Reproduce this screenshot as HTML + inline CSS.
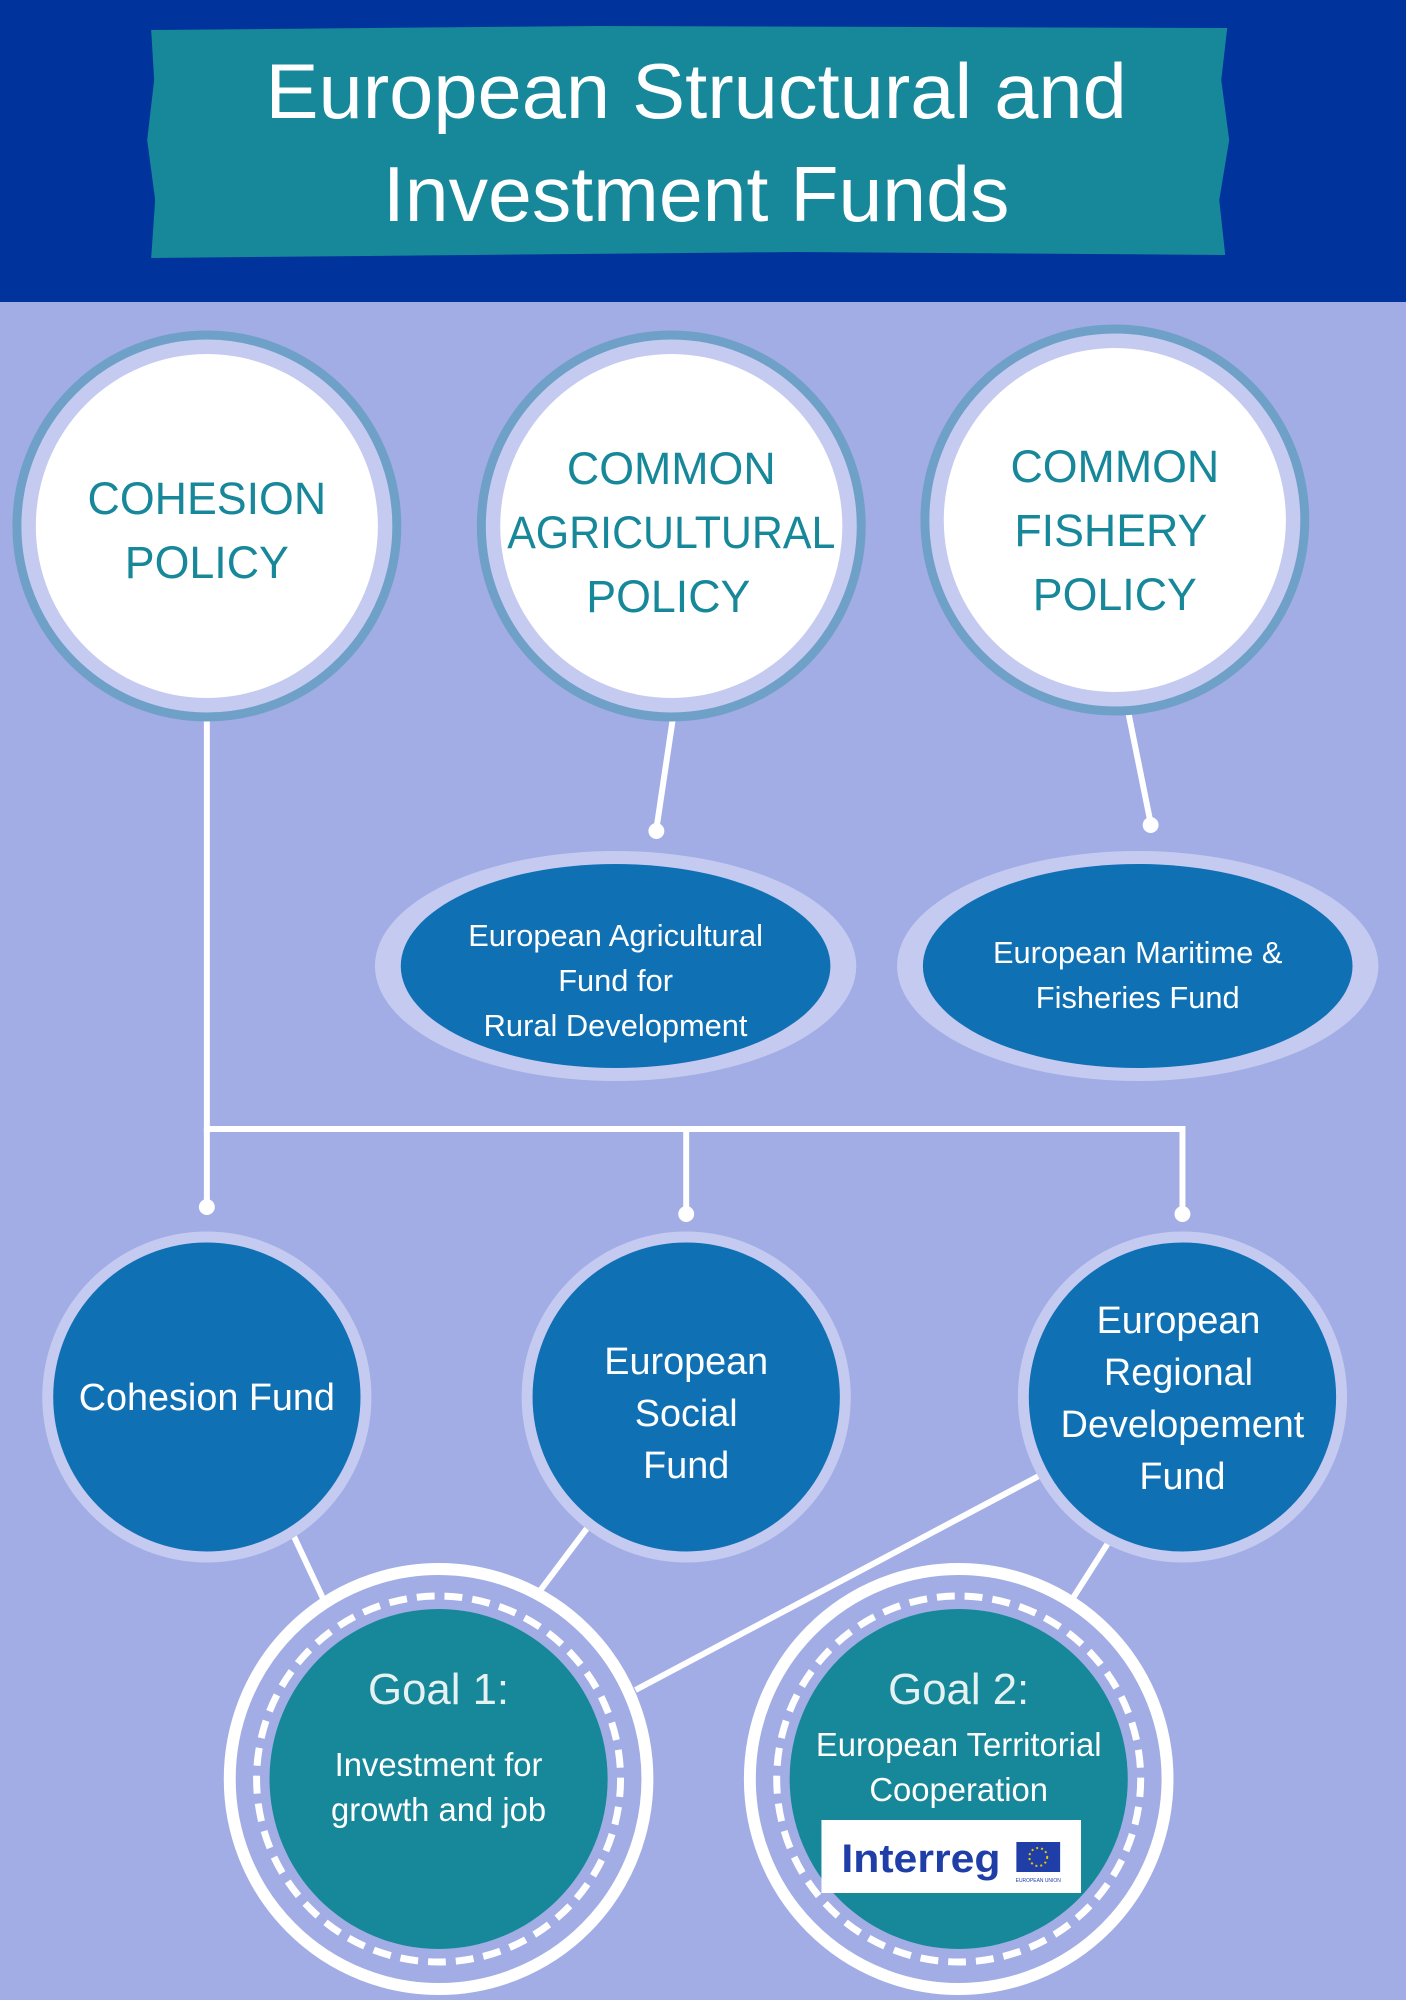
<!DOCTYPE html>
<html><head><meta charset="utf-8"><style>
html,body{margin:0;padding:0;background:#fff}
svg{display:block}
text{font-family:"Liberation Sans",sans-serif}
</style></head><body>
<svg width="1414" height="2000" viewBox="0 0 1414 2000" xmlns="http://www.w3.org/2000/svg">
<rect x="0" y="0" width="1414" height="2000" fill="#a1ade4"/>
<rect x="0" y="0" width="1414" height="302" fill="#00339b"/>
<g transform="scale(0.9945,1)">
<path d="M152 30 L600 26 L1234 28 L1228 80 L1236 140 L1226 200 L1232 255 L800 252 L152 258 L156 200 L148 140 L155 80 Z" fill="#17879a"/>
<text x="700" y="118" font-size="78" fill="#fff" text-anchor="middle" textLength="866" lengthAdjust="spacingAndGlyphs">European Structural and</text>
<text x="700" y="221" font-size="78" fill="#fff" text-anchor="middle" textLength="630" lengthAdjust="spacingAndGlyphs">Investment Funds</text>

<g stroke="#fff" stroke-width="6" fill="none">
<polyline points="208,699 208,1129 1189,1129 1189,1212"/>
<line x1="690" y1="1129" x2="690" y2="1212"/>
<line x1="208" y1="1129" x2="208" y2="1205"/>
<line x1="681" y1="689" x2="660" y2="829"/>
<line x1="1131" y1="695" x2="1157" y2="823"/>
<line x1="293" y1="1531" x2="326" y2="1601"/>
<line x1="595" y1="1522" x2="542" y2="1592"/>
<line x1="1054" y1="1471" x2="639" y2="1690"/>
<line x1="1118" y1="1537" x2="1077" y2="1601"/>
</g>
<g fill="#fff">
<circle cx="208" cy="1207" r="8"/><circle cx="690" cy="1214" r="8"/><circle cx="1189" cy="1214" r="8"/>
<circle cx="660" cy="831" r="8"/><circle cx="1157" cy="825" r="8"/>
</g>

<g>
<circle cx="208" cy="526" r="191" fill="#c5caf0" stroke="#6fa0c8" stroke-width="9"/>
<circle cx="208" cy="526" r="172" fill="#fff"/>
<circle cx="675" cy="526" r="191" fill="#c5caf0" stroke="#6fa0c8" stroke-width="9"/>
<circle cx="675" cy="526" r="172" fill="#fff"/>
<circle cx="1121" cy="520" r="191" fill="#c5caf0" stroke="#6fa0c8" stroke-width="9"/>
<circle cx="1121" cy="520" r="172" fill="#fff"/>
</g>
<g fill="#17879a" font-size="45" text-anchor="middle">
<text x="208" y="514">COHESION</text><text x="208" y="578">POLICY</text>
<text x="675" y="484">COMMON</text><text x="675" y="548" textLength="330" lengthAdjust="spacingAndGlyphs">AGRICULTURAL</text><text x="672" y="612">POLICY</text>
<text x="1121" y="482">COMMON</text><text x="1117" y="546">FISHERY</text><text x="1121" y="610">POLICY</text>
</g>

<ellipse cx="619" cy="966" rx="242" ry="115" fill="#c5caf0"/>
<ellipse cx="619" cy="966" rx="216" ry="102" fill="#1070b4"/>
<ellipse cx="1144" cy="966" rx="242" ry="115" fill="#c5caf0"/>
<ellipse cx="1144" cy="966" rx="216" ry="102" fill="#1070b4"/>
<g fill="#fff" font-size="31" text-anchor="middle">
<text x="619" y="946">European Agricultural</text><text x="619" y="991">Fund for</text><text x="619" y="1036">Rural Development</text>
<text x="1144" y="963">European Maritime &amp;</text><text x="1144" y="1008">Fisheries Fund</text>
</g>

<g fill="#1070b4" stroke="#c5caf0" stroke-width="11">
<circle cx="208" cy="1397" r="160"/>
<circle cx="690" cy="1397" r="160"/>
<circle cx="1189" cy="1397" r="160"/>
</g>
<g fill="#fff" font-size="38" text-anchor="middle">
<text x="208" y="1410">Cohesion Fund</text>
<text x="690" y="1374">European</text><text x="690" y="1426">Social</text><text x="690" y="1478">Fund</text>
<text x="1185" y="1333">European</text><text x="1185" y="1385">Regional</text><text x="1189" y="1437">Developement</text><text x="1189" y="1489">Fund</text>
</g>

<g>
<circle cx="441" cy="1779" r="210" fill="#a1ade4" stroke="#fff" stroke-width="12"/>
<circle cx="441" cy="1779" r="183" fill="none" stroke="#fff" stroke-width="7" stroke-dasharray="18 10"/>
<circle cx="441" cy="1779" r="170" fill="#17879a"/>
<circle cx="964" cy="1779" r="210" fill="#a1ade4" stroke="#fff" stroke-width="12"/>
<circle cx="964" cy="1779" r="183" fill="none" stroke="#fff" stroke-width="7" stroke-dasharray="18 10"/>
<circle cx="964" cy="1779" r="170" fill="#17879a"/>
</g>
<g fill="#fff" text-anchor="middle">
<text x="441" y="1704" font-size="44" fill="#e6f2f2">Goal 1:</text>
<text x="441" y="1776" font-size="33">Investment for</text>
<text x="441" y="1821" font-size="33">growth and job</text>
<text x="964" y="1704" font-size="44" fill="#e6f2f2">Goal 2:</text>
<text x="964" y="1756" font-size="33">European Territorial</text>
<text x="964" y="1801" font-size="33">Cooperation</text>
</g>
<rect x="826" y="1820" width="261" height="73" fill="#fff"/>
<text x="846" y="1872" font-size="40" font-weight="bold" fill="#1f3ea8" textLength="160" lengthAdjust="spacingAndGlyphs">Interreg</text>
<rect x="1022" y="1842" width="44" height="30" fill="#1f3ea8"/>
<circle cx="1044" cy="1857" r="9" fill="none" stroke="#e8c600" stroke-width="2" stroke-dasharray="2 3"/>
<text x="1044" y="1882" font-size="5" fill="#1f3ea8" text-anchor="middle">EUROPEAN UNION</text>
</g>
<rect x="1406" y="0" width="8" height="2000" fill="#fff"/>
</svg>
</body></html>
